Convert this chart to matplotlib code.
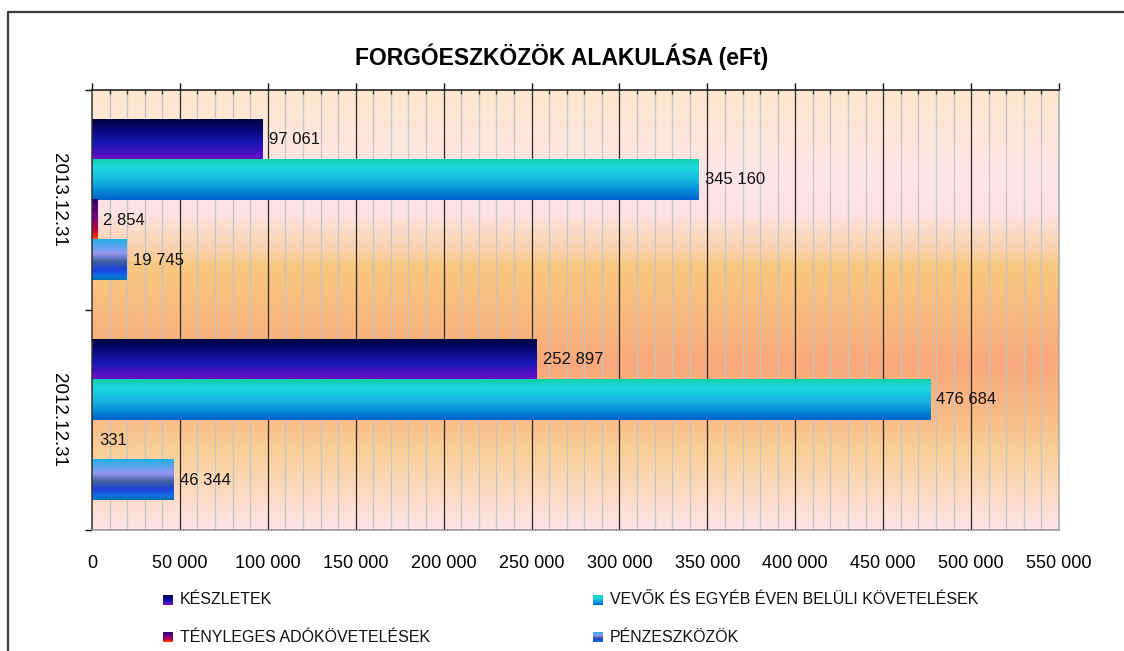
import matplotlib
matplotlib.use("Agg")
import matplotlib.pyplot as plt
import numpy as np
from matplotlib.colors import LinearSegmentedColormap
from matplotlib.ticker import MultipleLocator, FuncFormatter, FixedLocator
from matplotlib.lines import Line2D

plt.rcParams["font.family"] = ["Liberation Sans", "DejaVu Sans"]

# data
periods = ["2013.12.31", "2012.12.31"]
series = ["KÉSZLETEK", "VEVŐK ÉS EGYÉB ÉVEN BELÜLI KÖVETELÉSEK",
          "TÉNYLEGES ADÓKÖVETELÉSEK", "PÉNZESZKÖZÖK"]
keszletek = [97061, 252897]
vevok = [345160, 476684]
ado = [2854, 331]
penz = [19745, 46344]
values = [keszletek, vevok, ado, penz]
title = "FORGÓESZKÖZÖK ALAKULÁSA (eFt)"

# gradient stops (top -> bottom of each bar)
GRADS = [
    [(0, "#000040"), (0.3, "#0a0a80"), (0.6, "#1818b8"), (0.85, "#5010c0"), (1, "#7010c8")],
    [(0, "#10d0a8"), (0.2, "#20d8e0"), (0.5, "#18b8e0"), (0.75, "#0890d8"), (1, "#0060c8")],
    [(0, "#300070"), (0.4, "#700080"), (0.75, "#c00040"), (0.9, "#ff2000"), (1, "#ff6000")],
    [(0, "#20b0e8"), (0.35, "#9898f0"), (0.55, "#4060a0"), (0.75, "#2040e0"), (0.9, "#1070e0"), (1, "#0070b0")],
]
BG = [(0, "#fbe8cc"), (0.2, "#fde5ea"), (0.28, "#fce2e4"), (0.37, "#f9d0a6"), (0.4, "#f8c880"),
      (0.55, "#f8b47e"), (0.62, "#f8a87c"), (0.75, "#f8bd88"), (0.83, "#f9d09a"), (1, "#fde4e8")]

def cmap_of(stops):
    return LinearSegmentedColormap.from_list("g", stops)

vgrad = np.linspace(0, 1, 256).reshape(-1, 1)

W, H = 1124, 651
fig = plt.figure(figsize=(W / 100, H / 100), dpi=100)
L, R, T, B = 92, 1059, 90, 530
ax = fig.add_axes([L / W, 1 - B / H, (R - L) / W, (B - T) / H])

XMAX = 550000
ax.imshow(vgrad, cmap=cmap_of(BG), extent=(0, XMAX, 1.5, -0.5), aspect="auto",
          origin="upper", zorder=0, interpolation="bicubic")

bh = 0.182
for i, vals in enumerate(values):
    cm = cmap_of(GRADS[i])
    for c, v in enumerate(vals):
        yc = c - 2 * bh + bh * (i + 0.5)
        ax.imshow(vgrad, cmap=cm, extent=(0, v, yc + bh / 2, yc - bh / 2), aspect="auto",
                  origin="upper", zorder=3, interpolation="bilinear")
        ax.annotate(f"{v:,}".replace(",", " "), xy=(v, yc), xytext=(4.5, 0),
                    textcoords="offset points", va="center", ha="left",
                    fontsize=12, color="#111111", zorder=4)

ax.set_xlim(0, XMAX)
ax.set_ylim(1.5, -0.5)

# grid
for x in np.arange(10000, XMAX, 10000):
    major = x % 50000 == 0
    ax.axvline(x, color="#2a2a2a" if major else "#c4c4c4", lw=0.9, zorder=1)

ax.xaxis.set_major_locator(MultipleLocator(50000))
ax.xaxis.set_minor_locator(MultipleLocator(10000))
ax.xaxis.set_major_formatter(FuncFormatter(lambda v, p: f"{int(v):,}".replace(",", " ")))
ax.tick_params(axis="x", which="major", top=True, bottom=False, labeltop=False,
               labelbottom=True, direction="out", length=5, width=1, color="#111111",
               labelsize=13, pad=13)
ax.tick_params(axis="x", which="minor", top=True, bottom=False, direction="in",
               length=3, width=1, color="#333333")

ax.yaxis.set_major_locator(FixedLocator([-0.5, 0.5, 1.5]))
ax.yaxis.set_minor_locator(FixedLocator([0, 1]))
ax.yaxis.set_major_formatter(FuncFormatter(lambda v, p: ""))
ax.set_yticks([0, 1], labels=periods, minor=True)
ax.tick_params(axis="y", which="major", length=5, width=1, color="#111111", direction="out")
ax.tick_params(axis="y", which="minor", length=0, labelsize=13.5, pad=18)
for lab in ax.get_yticklabels(minor=True):
    lab.set_rotation(270)
    lab.set_va("center")

ax.spines["top"].set_color("#111111")
ax.spines["left"].set_color("#333333")
ax.spines["bottom"].set_color("#909090")
ax.spines["right"].set_color("#a8a8a8")
for s in ax.spines.values():
    s.set_linewidth(1.1)
    s.set_zorder(5)

fig.text(0.5, 1 - 57 / H, title, ha="center", va="center", fontsize=16.5,
         fontweight="bold")

# outer frame
fig.add_artist(Line2D([8 / W, 8 / W, 1.0], [0, 1 - 12 / H, 1 - 12 / H],
                      transform=fig.transFigure, color="#3c3c3c", lw=1.6))

# legend
pos = [(163, 600), (593, 600), (163, 637), (593, 637)]
for i, (px, py) in enumerate(pos):
    lax = fig.add_axes([px / W, 1 - (py + 5) / H, 10 / W, 10 / H])
    lax.imshow(vgrad, cmap=cmap_of(GRADS[i]), aspect="auto", origin="upper")
    lax.axis("off")
    fig.text((px + 17) / W, 1 - py / H, series[i], ha="left", va="center",
             fontsize=11.5, color="#111111")

fig.savefig("out.png", dpi=100)
